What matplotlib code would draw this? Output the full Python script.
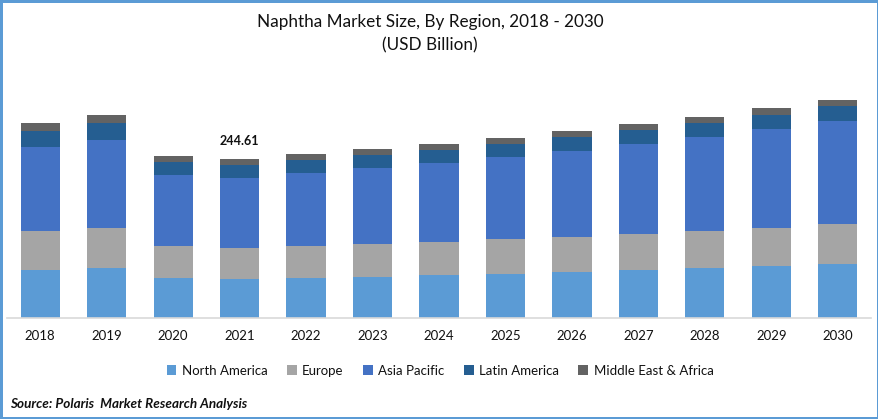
import numpy as np
import matplotlib
matplotlib.use("Agg")
import matplotlib.pyplot as plt
from matplotlib.patches import Rectangle

years = [2018, 2019, 2020, 2021, 2022, 2023, 2024, 2025, 2026, 2027, 2028, 2029, 2030]
north_america = [73.8, 76.9, 61.5, 60.0, 61.5, 63.1, 66.2, 67.7, 70.8, 73.8, 76.9, 80.0, 83.1]
europe = [60.0, 61.5, 49.2, 47.7, 49.2, 50.8, 50.8, 53.8, 53.8, 55.4, 56.9, 58.5, 61.5]
asia_pacific = [129.2, 135.4, 109.2, 107.7, 112.3, 116.9, 121.5, 126.2, 132.3, 138.5, 144.6, 152.3, 158.5]
latin_america = [24.6, 26.2, 20.0, 20.0, 20.0, 20.0, 20.0, 20.0, 21.5, 21.5, 21.5, 21.5, 23.1]
mea = [12.3, 12.3, 9.2, 9.2, 9.2, 9.2, 9.2, 9.2, 9.2, 9.2, 9.2, 10.8, 9.2]

series = [("North America", north_america, "#5B9BD5"),
          ("Europe", europe, "#A5A5A5"),
          ("Asia Pacific", asia_pacific, "#4472C4"),
          ("Latin America", latin_america, "#255E91"),
          ("Middle East & Africa", mea, "#636363")]

plt.rcParams["font.family"] = "Lato"
W, H = 879, 419
fig = plt.figure(figsize=(W/100, H/100), dpi=100)
ax = fig.add_axes([7/W, 1 - 318/H, 864/W, 240/H])

x = np.arange(len(years))
bottom = np.zeros(len(years))
for name, vals, col in series:
    ax.bar(x, vals, 0.59, bottom=bottom, color=col, label=name)
    bottom += np.array(vals)

ax.set_xlim(-0.5, len(years) - 0.5)
ax.set_ylim(0, 240 * 244.61 / 159)
ax.set_yticks([])
ax.set_xticks(x)
ax.set_xticklabels(years, fontsize=9.5, color="#111111")
ax.tick_params(axis="x", length=0, pad=8.5)
for s in ["top", "left", "right"]:
    ax.spines[s].set_visible(False)
ax.spines["bottom"].set_color("#D9D9D9")
ax.spines["bottom"].set_linewidth(1.2)

ax.text(3, 263, "244.61", ha="center", va="bottom", fontsize=9, fontweight="bold", color="#111111")

fig.text(430/W, 1 - 22.5/H, "Naphtha Market Size, By Region, 2018 - 2030", ha="center", va="center",
         fontsize=12.3, color="#111111")
fig.text(430/W, 1 - 45.5/H, "(USD Billion)", ha="center", va="center", fontsize=12.3, color="#111111")
fig.text(10/W, 1 - 403.5/H, "Source: Polaris  Market Research Analysis", ha="left", va="center",
         fontsize=9.75, fontweight="bold", fontstyle="italic", color="#111111")

fig.legend(loc="center", bbox_to_anchor=(440/W, 1 - 370.5/H), ncol=5, frameon=False, fontsize=9.5,
           handlelength=0.75, handleheight=0.75, handletextpad=0.4, columnspacing=1.47, labelcolor="#111111")

fig.add_artist(Rectangle((0, 0), 1, 1, transform=fig.transFigure, fill=False, ec="#5B9BD5", lw=3.6))

fig.savefig("out.png", dpi=100)
